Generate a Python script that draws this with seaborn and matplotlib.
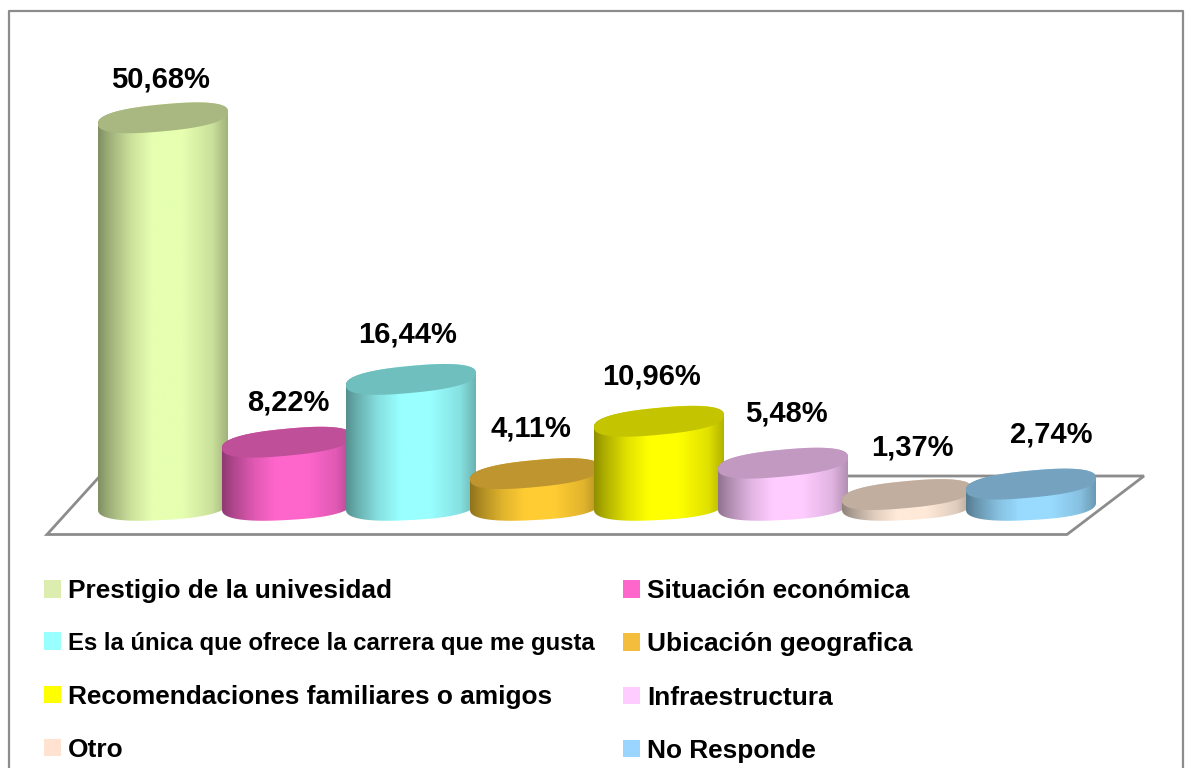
# grafico de barras cilindricas: motivos para elegir la universidad
import matplotlib
matplotlib.use('Agg')
import matplotlib.pyplot as plt
import matplotlib.transforms as mtransforms
from matplotlib.colors import to_rgb
from matplotlib.lines import Line2D
from matplotlib.patches import Polygon, Rectangle
from matplotlib.path import Path
import numpy as np
import pandas as pd
import seaborn as sns

# datos
motivos = ['Prestigio de la univesidad', 'Situación económica',
           'Es la única que ofrece la carrera que me gusta', 'Ubicación geografica',
           'Recomendaciones familiares o amigos', 'Infraestructura', 'Otro', 'No Responde']
porcentajes = [50.68, 8.22, 16.44, 4.11, 10.96, 5.48, 1.37, 2.74]
etiquetas = ['50,68%', '8,22%', '16,44%', '4,11%', '10,96%', '5,48%', '1,37%', '2,74%']

# colores del cuerpo y de la tapa de cada cilindro
colores = ['#E6FFB0', '#FF66CC', '#99FFFF', '#FFCC33', '#FFFF00', '#FFCCFF', '#FFE9D8', '#99DBFF']
colores_tapa = ['#A9B780', '#C04F99', '#6FBFBF', '#BF9530', '#C4C400', '#C199C1', '#C2AE9E', '#74A2BF']
colores_leyenda = ['#DDEDB0', '#FF66CC', '#99FFFF', '#F4BE3C', '#FFFF00', '#FFCCFF', '#FFE3D0', '#99D5FF']

# desplazamiento en pixeles de cada etiqueta respecto a la tapa
desp_x = [-3, 1, -3, -4, -8, 3, 5, 20]
desp_y = [38, 40, 45, 45, 45, 50, 47, 50]

W, H = 1186, 768
PX_X = 124.0   # pixeles por categoria
PX_Y = 7.64    # pixeles por punto porcentual
X0, Y0 = 163.0, 505.0

sns.set_theme(style='white')
plt.rcParams['font.family'] = ['Liberation Sans', 'DejaVu Sans']

df = pd.DataFrame({'motivo': motivos, 'porcentaje': porcentajes})

fig = plt.figure(figsize=(W / 100, H / 100), dpi=100)
ax = fig.add_axes([0, 0, 1, 1])
sns.barplot(data=df, x='motivo', y='porcentaje', hue='motivo', palette=colores,
            width=130 / PX_X, legend=False, ax=ax, zorder=3)
ax.set_axis_off()
barras = list(ax.patches)

# marco y suelo en pixeles de la imagen
px = mtransforms.Affine2D().scale(1 / W, -1 / H).translate(0, 1) + fig.transFigure
fig.add_artist(Line2D([8.5, 8.5, 1183, 1183], [768, 10.5, 10.5, 768], color='#8C8C8C', lw=1.6, transform=px))
ax.add_patch(Polygon([(47, 534.5), (1067, 534.5), (1144, 476), (100, 476)], closed=True,
                     facecolor='white', edgecolor='#8C8C8C', lw=2, transform=px, zorder=1))


def elipse(cx, cy, a, b, k, t, p=0.82):
    # elipse inclinada algo "inflada" para que se parezca a la tapa del original
    c = np.sign(np.cos(t)) * np.abs(np.cos(t)) ** p
    s = np.sign(np.sin(t)) * np.abs(np.sin(t)) ** p
    return np.column_stack([cx + a * c, cy + k * c + b * s])


# tapa y base, en unidades de datos
B_TAPA, K_TAPA = 13.5 / PX_Y, 6.0 / PX_Y
B_BASE, K_BASE = 14.0 / PX_Y, 3.5 / PX_Y
C_BASE = -1.0 / PX_Y

u = np.linspace(0, 1, 256)
sombra = np.interp(u, [0, 0.08, 0.25, 0.42, 0.65, 0.88, 1], [0.56, 0.68, 0.88, 1, 1, 0.88, 0.7])

for i, barra in enumerate(barras):
    a = barra.get_width() / 2
    cx = barra.get_x() + a
    alto = barra.get_height()
    # silueta: arco inferior de la base + arco superior de la tapa
    base = elipse(cx, C_BASE, a, B_BASE, K_BASE, np.linspace(np.pi, 2 * np.pi, 60))
    tapa_arriba = elipse(cx, alto, a, B_TAPA, K_TAPA, np.linspace(0, np.pi, 60))
    silueta = Path(np.vstack([base, tapa_arriba, base[:1]]), closed=True)
    barra.set_clip_path(silueta, transform=ax.transData)
    barra.set_zorder(3 + i)
    barra.set_linewidth(0)

    grad = np.outer(sombra, to_rgb(colores[i])).reshape(1, 256, 3)
    im = ax.imshow(grad, extent=(cx - a, cx + a, -3, alto + 3), aspect='auto',
                   interpolation='bilinear', zorder=3 + i)
    im.set_clip_path(silueta, transform=ax.transData)

    ax.add_patch(Polygon(elipse(cx, alto, a, B_TAPA, K_TAPA, np.linspace(0, 2 * np.pi, 120)), closed=True,
                         facecolor=colores_tapa[i], edgecolor='none', zorder=3 + i))
    ax.annotate(etiquetas[i], (cx, alto), xytext=(desp_x[i], desp_y[i]), textcoords='offset pixels',
                ha='center', va='center', fontsize=21, fontweight='bold', color='black', zorder=20)

ax.set_xlim(-X0 / PX_X, (W - X0) / PX_X)
ax.set_ylim((Y0 - H) / PX_Y, Y0 / PX_Y)

# leyenda en dos columnas, se rellena por columnas
orden = [0, 2, 4, 6, 1, 3, 5, 7]
handles = [Rectangle((0, 0), 1, 1, facecolor=colores_leyenda[j], edgecolor='none') for j in orden]
leg = ax.legend(handles, [motivos[j] for j in orden], ncol=2, frameon=False,
                loc='upper left', bbox_to_anchor=(44 / W, 1 - 579 / H), bbox_transform=fig.transFigure,
                prop={'weight': 'bold', 'size': 18.9}, labelcolor='black',
                handlelength=0.65, handleheight=0.65, handletextpad=0.27,
                labelspacing=1.115, columnspacing=1.07, borderpad=0, borderaxespad=0)
for t in leg.get_texts():
    if t.get_text().startswith('Es la'):
        t.set_fontsize(17.2)

fig.savefig('out.png', dpi=100)
